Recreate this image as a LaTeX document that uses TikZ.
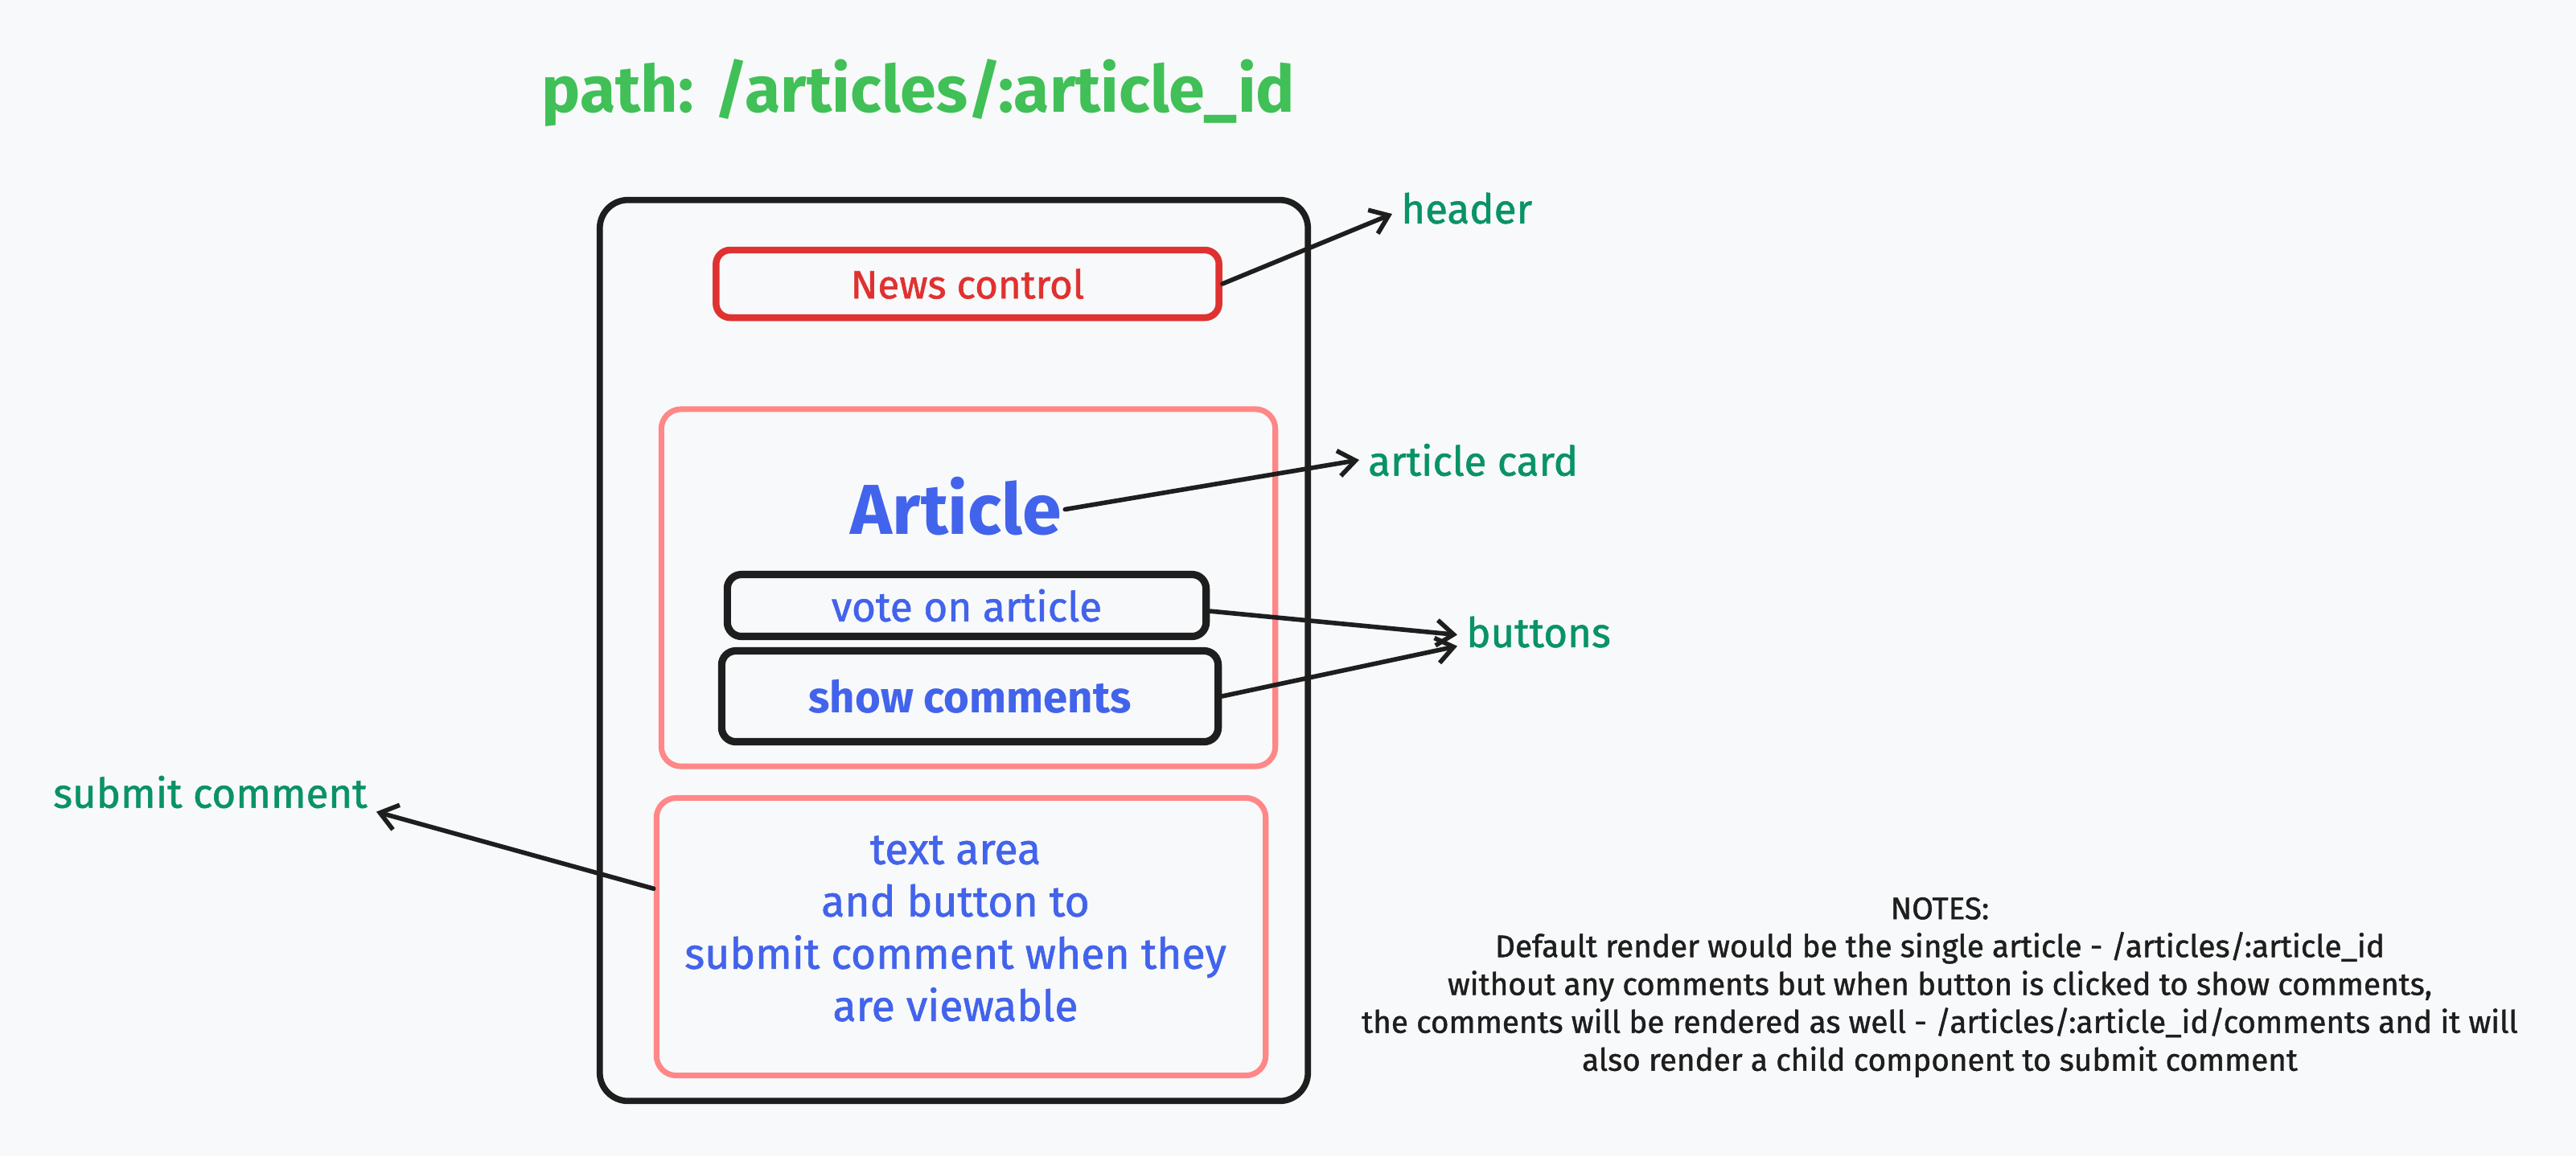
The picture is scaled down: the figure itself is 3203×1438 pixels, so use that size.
\documentclass[tikz,border=0pt]{standalone}
\usepackage{fontspec}
\setmainfont{Fira Sans}
\newfontfamily\handfont[FakeBold=1.2]{Fira Sans}
\usetikzlibrary{arrows.meta}
\definecolor{bg}{HTML}{F8F9FA}
\definecolor{ink}{HTML}{1E1E1E}
\definecolor{ttlgreen}{HTML}{40C057}
\definecolor{lblgreen}{HTML}{099268}
\definecolor{redc}{HTML}{E03131}
\definecolor{pinkc}{HTML}{FF8787}
\definecolor{bluec}{HTML}{4263EB}
\tikzset{
  frame/.style={draw=ink, line width=2.2pt, rounded corners=10pt, inner sep=0pt},
  redbox/.style={draw=redc, line width=2.4pt, rounded corners=5pt, text=redc, inner sep=0pt,
    font=\handfont\fontsize{14}{17}\selectfont},
  pinkbox/.style={draw=pinkc, line width=2pt, rounded corners=7pt, inner sep=0pt},
  btnbox/.style={draw=ink, line width=2.6pt, rounded corners=5pt, text=bluec, inner sep=0pt,
    font=\handfont\fontsize{14.6}{18}\selectfont},
  bluetxt/.style={text=bluec, align=center, font=\handfont\fontsize{15.2}{18.5}\selectfont},
  lbl/.style={text=lblgreen, anchor=west, inner sep=3pt, font=\handfont\fontsize{14.5}{17}\selectfont},
  arr/.style={draw=ink, line width=1.6pt, line cap=round,
    -{Straight Barb[length=6pt,width=9pt,line width=1.6pt]}}
}
\begin{document}
\begin{tikzpicture}[x=0.01cm, y=-0.01cm]
\fill[bg] (0,0) rectangle (3203,1438);
\useasboundingbox (0,0) rectangle (3203,1438);

% title
\node[text=ttlgreen, anchor=base, inner sep=0pt, font=\fontsize{23}{27}\selectfont\bfseries]
  (title) at (1142,139) {path: /articles/:article\_id};

% outer frame
\node[frame, minimum width=8.8cm, minimum height=11.2cm] (outer) at (1186,809) {};

% news control
\node[redbox, minimum width=6.25cm, minimum height=0.84cm] (news) at (1203,353) {News control};

% article card
\node[pinkbox, minimum width=7.63cm, minimum height=4.44cm] (card) at (1204,731) {};
\node[text=bluec, inner sep=1pt, font=\fontsize{25}{30}\selectfont\bfseries] (art) at (1189,630) {Article};
\node[btnbox, minimum width=5.95cm, minimum height=0.77cm] (vote) at (1202,753) {vote on article};
\node[btnbox, minimum width=6.17cm, minimum height=1.13cm, font=\fontsize{15.5}{18}\selectfont\bfseries] (show) at (1206,866) {show comments};

% comment box
\node[pinkbox, minimum width=7.57cm, minimum height=3.45cm] (cbox) at (1195,1165) {};
\node[bluetxt, inner sep=0pt] (ctext) at (1188,1155)
  {text area\\and button to\\submit comment when they\\are viewable};

% labels
\node[lbl] (hdr) at (1731,259) {header};
\node[lbl] (cardlbl) at (1690,572) {article card};
\node[lbl] (btn) at (1812,786) {buttons};
\node[lbl] (sub) at (55,985) {submit comment};

% notes
\node[text=ink, align=center, inner sep=0pt, font=\handfont\fontsize{11}{13.4}\selectfont] (notes) at (2412,1228)
  {NOTES:\\
   Default render would be the single article - /articles/:article\_id\\
   without any comments but when button is clicked to show comments,\\
   the comments will be rendered as well - /articles/:article\_id/comments and it will\\
   also render a child component to submit comment};

% connectors
\draw[arr] (news.east) -- ([yshift=-2pt]hdr.west);
\draw[arr] ([yshift=-1pt]art.east) -- (cardlbl.west);
\draw[arr] ([yshift=-2pt]vote.east) -- ([yshift=-1pt]btn.west);
\draw[arr] (show.east) -- ([yshift=-5pt]btn.west);
\draw[arr] ([yshift=17pt]cbox.west) -- ([yshift=-7pt]sub.east);
\end{tikzpicture}
\end{document}
